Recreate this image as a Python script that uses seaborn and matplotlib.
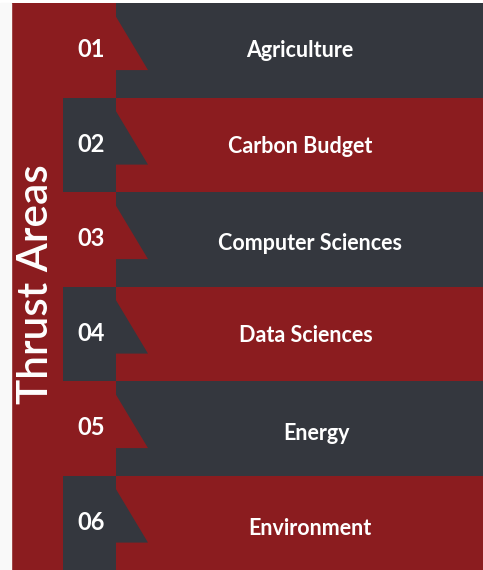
import matplotlib
matplotlib.use("Agg")
import matplotlib.pyplot as plt
import seaborn as sns

# -------------------------------
# Data
# -------------------------------
numbers = ["01", "02", "03", "04", "05", "06"]
areas = ["Agriculture", "Carbon Budget", "Computer Sciences",
         "Data Sciences", "Energy", "Environment"]
title = "Thrust Areas"

RED = "#8b1c1f"
DARK = "#34373e"

sns.set_theme(style="white")
plt.rcParams["font.family"] = ["Lato", "DejaVu Sans"]

fig = plt.figure(figsize=(4.83, 5.70), dpi=100, facecolor="white")
# left margin is a very light grey
fig.patches.append(plt.Rectangle((0, 0), 11 / 483, 567 / 570, transform=fig.transFigure,
                                 color="#f9f9f9", zorder=0))
ax = fig.add_axes([11 / 483, 0, 472 / 483, 567 / 570])
ax.set_facecolor("none")

# alternating bands: dark / red
band_cols = [DARK if i % 2 == 0 else RED for i in range(len(areas))]
box_cols = [RED if i % 2 == 0 else DARK for i in range(len(areas))]

# bands span to the right edge (x in pixels from the strip start)
sns.barplot(x=[472] * len(areas), y=areas, hue=areas, palette=band_cols,
            width=1, linewidth=0, saturation=1, legend=False, ax=ax, orient="h")

# number boxes
for i, c in enumerate(box_cols):
    ax.barh(i, 53, left=52, height=1, color=c, linewidth=0, zorder=3)
    # notch triangle sticking into the band
    top = i - 0.5
    ax.fill([105, 137, 105], [top + 0.145, top + 0.71, top + 0.71], color=c,
            linewidth=0, zorder=3)
    ax.text(80, i - 0.005, numbers[i], color="white", fontsize=17, fontweight="bold",
            ha="center", va="center", zorder=5)

# left title strip
ax.axvspan(0, 52, color=RED, linewidth=0, zorder=4)
ax.text(25, 2.47, title, rotation=90, color="white", fontsize=30.5, fontweight="semibold",
        ha="center", va="center", zorder=5)

# labels on the bands
dx = [0, 1, 10, 6, 17, 10]
dy = [0, 2, 4, 2, 5, 6]
for i, lab in enumerate(areas):
    ax.text(288.5 + dx[i], i + dy[i] / 94.5, lab, color="white", fontsize=15.5,
            fontweight="bold", ha="center", va="center", zorder=5)

ax.set_xlim(0, 472)
ax.set_ylim(len(areas) - 0.5, -0.5)
ax.set_xlabel("")
ax.set_ylabel("")
ax.set_xticks([])
ax.set_yticks([])
for s in ax.spines.values():
    s.set_visible(False)

fig.savefig("out.png", dpi=100, facecolor="white")
